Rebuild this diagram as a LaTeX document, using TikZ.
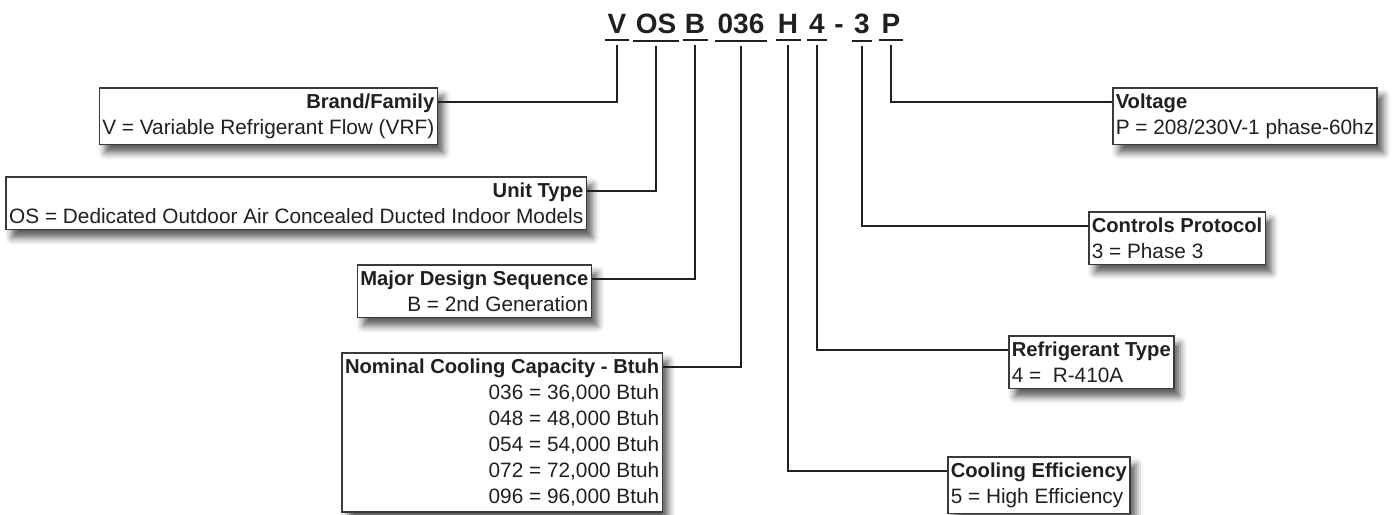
\documentclass[tikz,border=0pt]{standalone}
\usepackage{fontspec}
\setmainfont{Liberation Sans}
\usepackage{tikz}
\usetikzlibrary{shadows.blur}
\definecolor{ModelInk}{RGB}{35,31,32}
\definecolor{ModelFrame}{RGB}{58,58,58}
\colorlet{tinta}{ModelInk}
\newcommand{\boxtitle}[1]{{\fontsize{10.1}{13}\selectfont\bfseries #1}}

\tikzset{
  codeseg/.style={font=\fontsize{14}{14}\selectfont\bfseries,text=tinta,anchor=base,inner xsep=1pt,inner ysep=5.75pt},
  infobox/.style={draw=ModelFrame,line width=0.75pt,fill=white,text=tinta,
    font=\fontsize{10.4}{13}\selectfont,inner xsep=1.5pt,inner ysep=3pt,
    blur shadow={shadow xshift=3pt,shadow yshift=-4pt,shadow blur radius=3.5pt,shadow opacity=65}},
  leftbox/.style={infobox,anchor=north east,align=right},
  rightbox/.style={infobox,anchor=north west,align=left},
  wire/.style={draw=tinta,line width=1.25pt},
}

\begin{document}
\begin{tikzpicture}[x=0.5pt,y=-0.5pt]
  \useasboundingbox (0,0) rectangle (1396,514);

  % model number, one node per field
  \foreach \seg/\xx/\nm in {V/617/v,OS/656/os,B/695/b,036/741/cap,H/788/h,4/817/r,3/862/ctl,P/891/p}{
    \node[codeseg] (\nm) at (\xx,33.5) {\seg};
    \draw[tinta,line width=1pt] ([yshift=2.5pt]\nm.south west) -- ([yshift=2.5pt]\nm.south east);
  }
  \node[codeseg] (dash) at (839,33.5) {-};

  % left side
  \node[leftbox] (brand) at (438,87)
    {\boxtitle{Brand/Family}\\V = Variable Refrigerant Flow (VRF)};
  \node[leftbox] (unit) at (587,176)
    {\boxtitle{Unit Type}\\OS = Dedicated Outdoor Air Concealed Ducted Indoor Models};
  \node[leftbox] (major) at (592,264)
    {\boxtitle{Major Design Sequence}\\B = 2nd Generation};
  \node[leftbox] (nominal) at (663,352)
    {\boxtitle{Nominal Cooling Capacity - Btuh}\\036 = 36,000 Btuh\\048 = 48,000 Btuh\\054 = 54,000 Btuh\\072 = 72,000 Btuh\\096 = 96,000 Btuh};

  % right side
  \node[rightbox] (voltage) at (1112,87)
    {\boxtitle{Voltage}\\P = 208/230V-1 phase-60hz};
  \node[rightbox] (controls) at (1088,211)
    {\boxtitle{Controls Protocol}\\3 = Phase 3};
  \node[rightbox] (refrig) at (1008,335)
    {\boxtitle{Refrigerant Type}\\4 = \ R-410A};
  \node[rightbox] (cooling) at (947,456)
    {\boxtitle{Cooling Efficiency}\\5 = High Efficiency};

  \draw[wire] (v.south) |- ([yshift=-7.5pt]brand.north east);
  \draw[wire] (os.south) |- ([yshift=-7.5pt]unit.north east);
  \draw[wire] (b.south) |- ([yshift=-7.5pt]major.north east);
  \draw[wire] (cap.south) |- ([yshift=-7.5pt]nominal.north east);
  \draw[wire] (h.south) |- ([yshift=-7.5pt]cooling.north west);
  \draw[wire] (r.south) |- ([yshift=-7.5pt]refrig.north west);
  \draw[wire] (ctl.south) |- ([yshift=-7.5pt]controls.north west);
  \draw[wire] (p.south) |- ([yshift=-7.5pt]voltage.north west);
\end{tikzpicture}
\end{document}
